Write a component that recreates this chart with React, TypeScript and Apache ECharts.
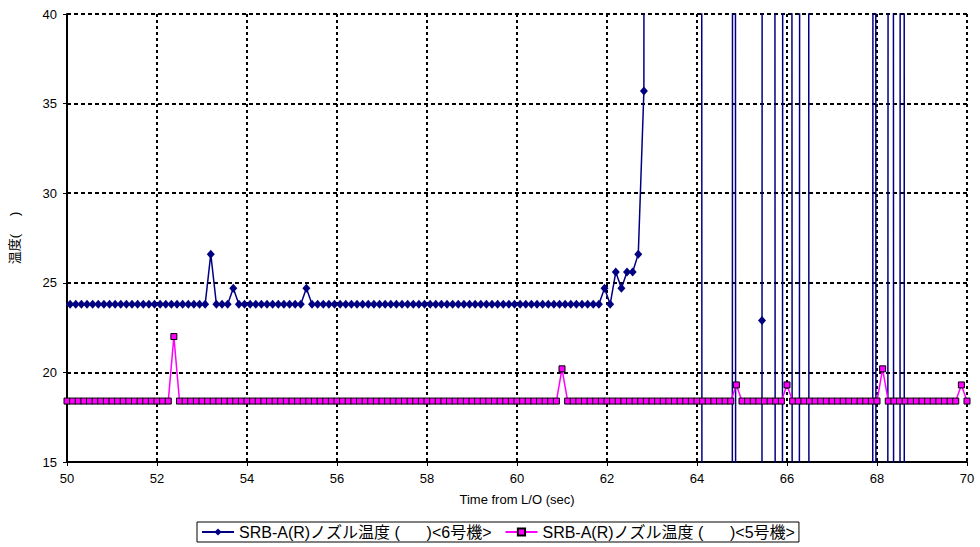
import React, { useEffect, useRef } from "react";
import * as echarts from "echarts";

// ---- Data ----
const xTicks = [50, 52, 54, 56, 58, 60, 62, 64, 66, 68, 70];
const yTicks = [15, 20, 25, 30, 35, 40];

const seriesNames = [
  "SRB-A(R)ノズル温度 (      )<6号機>",
  "SRB-A(R)ノズル温度 (      )<5号機>",
];

// No.6 vehicle: time (sec) and temperature
const navyTime = [
  49.945,
  50.07, 50.195, 50.32, 50.445, 50.57, 50.695, 50.82, 50.945,
  51.07, 51.195, 51.32, 51.445, 51.57, 51.695, 51.82, 51.945,
  52.07, 52.195, 52.32, 52.445, 52.57, 52.695, 52.82, 52.945,
  53.07, 53.195, 53.32, 53.445, 53.57, 53.695, 53.82, 53.945,
  54.07, 54.195, 54.32, 54.445, 54.57, 54.695, 54.82, 54.945,
  55.07, 55.195, 55.32, 55.445, 55.57, 55.695, 55.82, 55.945,
  56.07, 56.195, 56.32, 56.445, 56.57, 56.695, 56.82, 56.945,
  57.07, 57.195, 57.32, 57.445, 57.57, 57.695, 57.82, 57.945,
  58.07, 58.195, 58.32, 58.445, 58.57, 58.695, 58.82, 58.945,
  59.07, 59.195, 59.32, 59.445, 59.57, 59.695, 59.82, 59.945,
  60.07, 60.195, 60.32, 60.445, 60.57, 60.695, 60.82, 60.945,
  61.07, 61.195, 61.32, 61.445, 61.57, 61.695, 61.82, 61.945,
  62.07, 62.195, 62.32, 62.445, 62.57, 62.695, 62.82, 62.945,
  63.07, 63.195, 63.32, 63.445, 63.57, 63.695, 63.82, 63.945,
  64.07, 64.195, 64.32, 64.445, 64.57, 64.695, 64.82, 64.945,
  65.07, 65.195, 65.32, 65.445, 65.57, 65.695, 65.82, 65.945,
  66.07, 66.195, 66.32, 66.445, 66.57, 66.695, 66.82, 66.945,
  67.07, 67.195, 67.32, 67.445, 67.57, 67.695, 67.82, 67.945,
  68.07, 68.195, 68.32, 68.445, 68.57, 68.695, 68.82, 68.945,
  69.07, 69.195, 69.32, 69.445, 69.57, 69.695, 69.82, 69.945,
  70.07,
];
const navyTemp = [
  23.8,
  23.8, 23.8, 23.8, 23.8, 23.8, 23.8, 23.8, 23.8,
  23.8, 23.8, 23.8, 23.8, 23.8, 23.8, 23.8, 23.8,
  23.8, 23.8, 23.8, 23.8, 23.8, 23.8, 23.8, 23.8,
  23.8, 26.6, 23.8, 23.8, 23.8, 24.7, 23.8, 23.8,
  23.8, 23.8, 23.8, 23.8, 23.8, 23.8, 23.8, 23.8,
  23.8, 23.8, 24.7, 23.8, 23.8, 23.8, 23.8, 23.8,
  23.8, 23.8, 23.8, 23.8, 23.8, 23.8, 23.8, 23.8,
  23.8, 23.8, 23.8, 23.8, 23.8, 23.8, 23.8, 23.8,
  23.8, 23.8, 23.8, 23.8, 23.8, 23.8, 23.8, 23.8,
  23.8, 23.8, 23.8, 23.8, 23.8, 23.8, 23.8, 23.8,
  23.8, 23.8, 23.8, 23.8, 23.8, 23.8, 23.8, 23.8,
  23.8, 23.8, 23.8, 23.8, 23.8, 23.8, 23.8, 24.7,
  23.8, 25.6, 24.7, 25.6, 25.6, 26.6, 35.7, 999,
  999, 999, 999, 999, 999, 999, 999, 999,
  300, -610, -999, -999, -999, -735, 300, -640,
  -999, -999, -999, 22.9, 999, 225, -400, 256,
  245, -400, 245, 323, -600, -999, -999, -999,
  -999, -999, -999, -999, -999, -999, -609, 300,
  -854, -206, 400, -600, 554, -1293, -999, -999,
  -999, -999, -999, -999, -999, -999, -999, -999,
  -999,
];

// No.5 vehicle: time (sec) and temperature
const pinkTime = [
  50.0, 50.125, 50.25, 50.375, 50.5, 50.625, 50.75, 50.875,
  51.0, 51.125, 51.25, 51.375, 51.5, 51.625, 51.75, 51.875,
  52.0, 52.125, 52.25, 52.375, 52.5, 52.625, 52.75, 52.875,
  53.0, 53.125, 53.25, 53.375, 53.5, 53.625, 53.75, 53.875,
  54.0, 54.125, 54.25, 54.375, 54.5, 54.625, 54.75, 54.875,
  55.0, 55.125, 55.25, 55.375, 55.5, 55.625, 55.75, 55.875,
  56.0, 56.125, 56.25, 56.375, 56.5, 56.625, 56.75, 56.875,
  57.0, 57.125, 57.25, 57.375, 57.5, 57.625, 57.75, 57.875,
  58.0, 58.125, 58.25, 58.375, 58.5, 58.625, 58.75, 58.875,
  59.0, 59.125, 59.25, 59.375, 59.5, 59.625, 59.75, 59.875,
  60.0, 60.125, 60.25, 60.375, 60.5, 60.625, 60.75, 60.875,
  61.0, 61.125, 61.25, 61.375, 61.5, 61.625, 61.75, 61.875,
  62.0, 62.125, 62.25, 62.375, 62.5, 62.625, 62.75, 62.875,
  63.0, 63.125, 63.25, 63.375, 63.5, 63.625, 63.75, 63.875,
  64.0, 64.125, 64.25, 64.375, 64.5, 64.625, 64.75, 64.875,
  65.0, 65.125, 65.25, 65.375, 65.5, 65.625, 65.75, 65.875,
  66.0, 66.125, 66.25, 66.375, 66.5, 66.625, 66.75, 66.875,
  67.0, 67.125, 67.25, 67.375, 67.5, 67.625, 67.75, 67.875,
  68.0, 68.125, 68.25, 68.375, 68.5, 68.625, 68.75, 68.875,
  69.0, 69.125, 69.25, 69.375, 69.5, 69.625, 69.75, 69.875,
  70.0, 70.125,
];
const pinkTemp = [
  18.4, 18.4, 18.4, 18.4, 18.4, 18.4, 18.4, 18.4,
  18.4, 18.4, 18.4, 18.4, 18.4, 18.4, 18.4, 18.4,
  18.4, 18.4, 18.4, 22.0, 18.4, 18.4, 18.4, 18.4,
  18.4, 18.4, 18.4, 18.4, 18.4, 18.4, 18.4, 18.4,
  18.4, 18.4, 18.4, 18.4, 18.4, 18.4, 18.4, 18.4,
  18.4, 18.4, 18.4, 18.4, 18.4, 18.4, 18.4, 18.4,
  18.4, 18.4, 18.4, 18.4, 18.4, 18.4, 18.4, 18.4,
  18.4, 18.4, 18.4, 18.4, 18.4, 18.4, 18.4, 18.4,
  18.4, 18.4, 18.4, 18.4, 18.4, 18.4, 18.4, 18.4,
  18.4, 18.4, 18.4, 18.4, 18.4, 18.4, 18.4, 18.4,
  18.4, 18.4, 18.4, 18.4, 18.4, 18.4, 18.4, 18.4,
  20.2, 18.4, 18.4, 18.4, 18.4, 18.4, 18.4, 18.4,
  18.4, 18.4, 18.4, 18.4, 18.4, 18.4, 18.4, 18.4,
  18.4, 18.4, 18.4, 18.4, 18.4, 18.4, 18.4, 18.4,
  18.4, 18.4, 18.4, 18.4, 18.4, 18.4, 18.4, 19.3,
  18.4, 18.4, 18.4, 18.4, 18.4, 18.4, 18.4, 18.4,
  19.3, 18.4, 18.4, 18.4, 18.4, 18.4, 18.4, 18.4,
  18.4, 18.4, 18.4, 18.4, 18.4, 18.4, 18.4, 18.4,
  18.4, 20.2, 18.4, 18.4, 18.4, 18.4, 18.4, 18.4,
  18.4, 18.4, 18.4, 18.4, 18.4, 18.4, 18.4, 19.3,
  18.4, 18.4,
];

const xAxisTitle = "Time from L/O (sec)";
const yAxisTitle = "温度(     )";

const FONT = "'Liberation Sans', Arial, 'Noto Sans CJK JP', sans-serif";

export default function App() {
  const ref = useRef<HTMLDivElement>(null);

  useEffect(() => {
    if (!ref.current) return;
    const chart = echarts.init(ref.current, undefined, { renderer: "svg" });
    const navyData = navyTime.map((t, i) => [t, navyTemp[i]]);
    const pinkData = pinkTime.map((t, i) => [t, pinkTemp[i]]);

    chart.setOption({
      animation: false,
      backgroundColor: "#ffffff",
      textStyle: { fontFamily: FONT },
      grid: { left: 67, right: 13, top: 14, bottom: 85, containLabel: false },
      xAxis: {
        type: "value",
        min: xTicks[0],
        max: xTicks[xTicks.length - 1],
        interval: 2,
        name: xAxisTitle,
        nameLocation: "middle",
        nameGap: 31,
        nameTextStyle: { fontSize: 13, color: "#000", fontFamily: FONT },
        axisLine: { show: true, onZero: false, lineStyle: { color: "#000", width: 2 } },
        axisTick: { show: true, length: 4, lineStyle: { color: "#000", width: 1 } },
        axisLabel: { fontSize: 13, color: "#000", margin: 10, fontFamily: FONT },
        splitLine: {
          show: true,
          lineStyle: { color: "#000", width: 2, type: [3, 3] },
        },
      },
      yAxis: {
        type: "value",
        min: yTicks[0],
        max: yTicks[yTicks.length - 1],
        interval: 5,
        name: yAxisTitle,
        nameLocation: "middle",
        nameRotate: 90,
        nameGap: 46,
        nameTextStyle: { fontSize: 13, color: "#000", fontFamily: FONT },
        axisLine: { show: true, onZero: false, lineStyle: { color: "#000", width: 2 } },
        axisTick: { show: true, length: 4, lineStyle: { color: "#000", width: 1 } },
        axisLabel: { fontSize: 13, color: "#000", margin: 10, fontFamily: FONT },
        splitLine: {
          show: true,
          lineStyle: { color: "#000", width: 2, type: [4, 3] },
        },
      },
      legend: {
        show: true,
        left: 197,
        top: 522,
        orient: "horizontal",
        padding: [2, 4, 2, 4],
        borderColor: "#000",
        borderWidth: 1,
        itemWidth: 32,
        itemHeight: 9,
        itemGap: 13,
        textStyle: { fontSize: 16, color: "#000", fontFamily: FONT },
        data: seriesNames,
      },
      series: [
        {
          name: seriesNames[0],
          type: "line",
          data: navyData,
          clip: true,
          symbol: "diamond",
          symbolSize: [8, 9],
          showAllSymbol: true,
          lineStyle: { color: "#000080", width: 1.5 },
          itemStyle: { color: "#000080" },
          z: 3,
        },
        {
          name: seriesNames[1],
          type: "line",
          data: pinkData,
          clip: true,
          symbol: "rect",
          symbolSize: 6,
          showAllSymbol: true,
          lineStyle: { color: "#FF00FF", width: 1.5 },
          itemStyle: { color: "#FF00FF", borderColor: "#000", borderWidth: 1 },
          z: 4,
        },
      ],
    });
    return () => chart.dispose();
  }, []);

  return (
    <div
      ref={ref}
      style={{ position: "absolute", left: 0, top: 0, width: 980, height: 547 }}
    />
  );
}
